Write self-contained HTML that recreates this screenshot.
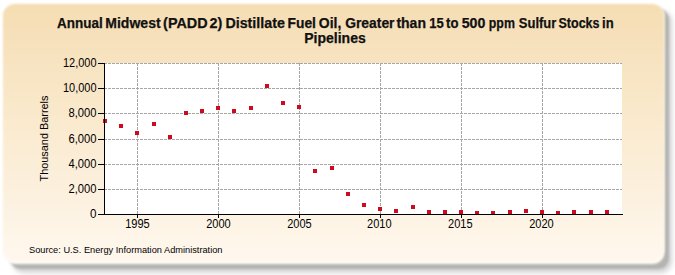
<!DOCTYPE html>
<html><head><meta charset="utf-8"><style>
html,body{margin:0;padding:0;background:#ffffff;}
body{width:675px;height:275px;overflow:hidden;}
svg{display:block;}
</style></head><body>
<svg width="675" height="275" viewBox="0 0 675 275">
<defs>
<linearGradient id="bg" x1="0" y1="0" x2="0" y2="1">
<stop offset="0" stop-color="#F5DDB3"/>
<stop offset="1" stop-color="#FFF8EE"/>
</linearGradient>
<filter id="sh" x="-5%" y="-5%" width="110%" height="110%"><feGaussianBlur stdDeviation="2.6"/></filter><filter id="sr" x="-5%" y="-5%" width="110%" height="110%"><feGaussianBlur stdDeviation="1.3"/></filter><filter id="sb" x="-5%" y="-5%" width="110%" height="110%"><feGaussianBlur stdDeviation="1.2"/></filter>
</defs>
<rect x="12" y="10" width="660" height="263" rx="12" ry="12" fill="#d4d4d7" filter="url(#sh)"/>
<rect x="10" y="9" width="659" height="260" rx="11" ry="11" fill="#b6b4b1" filter="url(#sr)"/>
<rect x="3" y="4" width="661.5" height="260" rx="12" ry="12" fill="#fdfbf7" filter="url(#sb)"/>
<rect x="3" y="4" width="661" height="257.5" rx="12" ry="12" fill="url(#bg)" filter="url(#sb)"/>
<rect x="104" y="63" width="518" height="151" fill="#ffffff"/>
<g stroke="#a6a6a6" stroke-width="1" stroke-dasharray="3 1" shape-rendering="crispEdges"><line x1="104" y1="63.5" x2="622" y2="63.5"/><line x1="104" y1="88.5" x2="622" y2="88.5"/><line x1="104" y1="113.5" x2="622" y2="113.5"/><line x1="104" y1="139.5" x2="622" y2="139.5"/><line x1="104" y1="164.5" x2="622" y2="164.5"/><line x1="104" y1="189.5" x2="622" y2="189.5"/><line x1="137.5" y1="63" x2="137.5" y2="214"/><line x1="218.5" y1="63" x2="218.5" y2="214"/><line x1="299.5" y1="63" x2="299.5" y2="214"/><line x1="380.5" y1="63" x2="380.5" y2="214"/><line x1="461.5" y1="63" x2="461.5" y2="214"/><line x1="542.5" y1="63" x2="542.5" y2="214"/></g>
<g fill="#CE0A1E" shape-rendering="crispEdges"><rect x="103" y="119" width="4" height="4"/><rect x="119" y="124" width="4" height="4"/><rect x="135" y="131" width="4" height="4"/><rect x="152" y="122" width="4" height="4"/><rect x="168" y="135" width="4" height="4"/><rect x="184" y="111" width="4" height="4"/><rect x="200" y="109" width="4" height="4"/><rect x="216" y="106" width="4" height="4"/><rect x="232" y="109" width="4" height="4"/><rect x="249" y="106" width="4" height="4"/><rect x="265" y="84" width="4" height="4"/><rect x="281" y="101" width="4" height="4"/><rect x="297" y="105" width="4" height="4"/><rect x="313" y="169" width="4" height="4"/><rect x="330" y="166" width="4" height="4"/><rect x="346" y="192" width="4" height="4"/><rect x="362" y="203" width="4" height="4"/><rect x="378" y="207" width="4" height="4"/><rect x="394" y="209" width="4" height="4"/><rect x="411" y="205" width="4" height="4"/><rect x="427" y="210" width="4" height="4"/><rect x="443" y="210" width="4" height="4"/><rect x="459" y="210" width="4" height="4"/><rect x="475" y="211" width="4" height="4"/><rect x="491" y="211" width="4" height="4"/><rect x="508" y="210" width="4" height="4"/><rect x="524" y="209" width="4" height="4"/><rect x="540" y="210" width="4" height="4"/><rect x="556" y="211" width="4" height="4"/><rect x="572" y="210" width="4" height="4"/><rect x="589" y="210" width="4" height="4"/><rect x="605" y="210" width="4" height="4"/></g>
<g stroke="#000" stroke-width="1" shape-rendering="crispEdges"><line x1="104.5" y1="63" x2="104.5" y2="215"/><line x1="104" y1="214.5" x2="623" y2="214.5"/><line x1="98" y1="63.5" x2="104" y2="63.5"/><line x1="98" y1="88.5" x2="104" y2="88.5"/><line x1="98" y1="113.5" x2="104" y2="113.5"/><line x1="98" y1="139.5" x2="104" y2="139.5"/><line x1="98" y1="164.5" x2="104" y2="164.5"/><line x1="98" y1="189.5" x2="104" y2="189.5"/><line x1="98" y1="214.5" x2="104" y2="214.5"/><line x1="137.5" y1="215" x2="137.5" y2="218"/><line x1="218.5" y1="215" x2="218.5" y2="218"/><line x1="299.5" y1="215" x2="299.5" y2="218"/><line x1="380.5" y1="215" x2="380.5" y2="218"/><line x1="461.5" y1="215" x2="461.5" y2="218"/><line x1="542.5" y1="215" x2="542.5" y2="218"/></g>
<text x="96.5" y="67" text-anchor="end" textLength="33.5" lengthAdjust="spacingAndGlyphs" style="font-family:'Liberation Sans',sans-serif;font-size:12px" fill="#000">12,000</text><text x="96.5" y="92" text-anchor="end" textLength="33.5" lengthAdjust="spacingAndGlyphs" style="font-family:'Liberation Sans',sans-serif;font-size:12px" fill="#000">10,000</text><text x="96.5" y="117" text-anchor="end" textLength="28" lengthAdjust="spacingAndGlyphs" style="font-family:'Liberation Sans',sans-serif;font-size:12px" fill="#000">8,000</text><text x="96.5" y="143" text-anchor="end" textLength="28" lengthAdjust="spacingAndGlyphs" style="font-family:'Liberation Sans',sans-serif;font-size:12px" fill="#000">6,000</text><text x="96.5" y="168" text-anchor="end" textLength="28" lengthAdjust="spacingAndGlyphs" style="font-family:'Liberation Sans',sans-serif;font-size:12px" fill="#000">4,000</text><text x="96.5" y="193" text-anchor="end" textLength="28" lengthAdjust="spacingAndGlyphs" style="font-family:'Liberation Sans',sans-serif;font-size:12px" fill="#000">2,000</text><text x="96.5" y="218" text-anchor="end" textLength="6.5" lengthAdjust="spacingAndGlyphs" style="font-family:'Liberation Sans',sans-serif;font-size:12px" fill="#000">0</text><text x="137.5" y="228" text-anchor="middle" textLength="24.5" lengthAdjust="spacingAndGlyphs" style="font-family:'Liberation Sans',sans-serif;font-size:12px" fill="#000">1995</text><text x="218.5" y="228" text-anchor="middle" textLength="24.5" lengthAdjust="spacingAndGlyphs" style="font-family:'Liberation Sans',sans-serif;font-size:12px" fill="#000">2000</text><text x="299.5" y="228" text-anchor="middle" textLength="24.5" lengthAdjust="spacingAndGlyphs" style="font-family:'Liberation Sans',sans-serif;font-size:12px" fill="#000">2005</text><text x="379.3" y="228" text-anchor="middle" textLength="24.5" lengthAdjust="spacingAndGlyphs" style="font-family:'Liberation Sans',sans-serif;font-size:12px" fill="#000">2010</text><text x="460.3" y="228" text-anchor="middle" textLength="24.5" lengthAdjust="spacingAndGlyphs" style="font-family:'Liberation Sans',sans-serif;font-size:12px" fill="#000">2015</text><text x="541.5" y="228" text-anchor="middle" textLength="24.5" lengthAdjust="spacingAndGlyphs" style="font-family:'Liberation Sans',sans-serif;font-size:12px" fill="#000">2020</text><g style="font-family:'Liberation Sans',sans-serif;font-size:14px;font-weight:bold" fill="#111" stroke="#111" stroke-width="0.25"><text x="57.0" y="28" textLength="45.7" lengthAdjust="spacingAndGlyphs">Annual</text><text x="105.3" y="28" textLength="55.3" lengthAdjust="spacingAndGlyphs">Midwest</text><text x="163.1" y="28" textLength="44.5" lengthAdjust="spacingAndGlyphs">(PADD</text><text x="209.5" y="28" textLength="12.8" lengthAdjust="spacingAndGlyphs">2)</text><text x="225.4" y="28" textLength="59.5" lengthAdjust="spacingAndGlyphs">Distillate</text><text x="287.5" y="28" textLength="28.4" lengthAdjust="spacingAndGlyphs">Fuel</text><text x="318.8" y="28" textLength="22.5" lengthAdjust="spacingAndGlyphs">Oil,</text><text x="345.2" y="28" textLength="49.3" lengthAdjust="spacingAndGlyphs">Greater</text><text x="396.4" y="28" textLength="29.6" lengthAdjust="spacingAndGlyphs">than</text><text x="429.3" y="28" textLength="14.5" lengthAdjust="spacingAndGlyphs">15</text><text x="446.1" y="28" textLength="12.4" lengthAdjust="spacingAndGlyphs">to</text><text x="461.7" y="28" textLength="23.6" lengthAdjust="spacingAndGlyphs">500</text><text x="488.8" y="28" textLength="26.1" lengthAdjust="spacingAndGlyphs">ppm</text><text x="518.8" y="28" textLength="37.5" lengthAdjust="spacingAndGlyphs">Sulfur</text><text x="558.5" y="28" textLength="41.0" lengthAdjust="spacingAndGlyphs">Stocks</text><text x="602.1" y="28" textLength="11.6" lengthAdjust="spacingAndGlyphs">in</text></g><text x="335" y="43" text-anchor="middle" style="font-family:'Liberation Sans',sans-serif;font-size:14px;font-weight:bold" fill="#111" stroke="#111" stroke-width="0.25">Pipelines</text><text transform="translate(47.5,138.5) rotate(-90)" text-anchor="middle" textLength="86" lengthAdjust="spacingAndGlyphs" style="font-family:'Liberation Sans',sans-serif;font-size:10.5px" fill="#000">Thousand Barrels</text><text x="29" y="253" textLength="193.5" lengthAdjust="spacingAndGlyphs" style="font-family:'Liberation Sans',sans-serif;font-size:9.5px" fill="#000">Source: U.S. Energy Information Administration</text>
</svg>
</body></html>
